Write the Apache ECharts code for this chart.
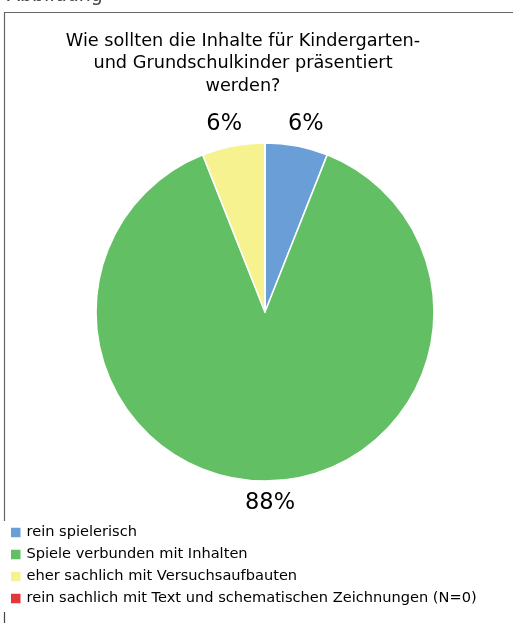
<!DOCTYPE html>
<html>
<head>
<meta charset="utf-8">
<script src="https://cdn.jsdelivr.net/npm/echarts@6/dist/echarts.min.js"></script>
<style>
html,body{margin:0;padding:0;background:#fff;}
#c{width:513px;height:623px;}
</style>
</head>
<body>
<div id="c"></div>
<script>
const titleText = 'Wie sollten die Inhalte für Kindergarten-\nund Grundschulkinder präsentiert\nwerden?';
const categories = ['rein spielerisch', 'Spiele verbunden mit Inhalten', 'eher sachlich mit Versuchsaufbauten', 'rein sachlich mit Text und schematischen Zeichnungen (N=0)'];
const values = [6, 88, 6, 0];
const colors = ['#6A9ED6', '#63BF63', '#F7F290', '#E4373C'];

const chart = echarts.init(document.getElementById('c'), null, {renderer: 'canvas'});
const font = '"DejaVu Sans"';
chart.setOption({
  animation: false,
  backgroundColor: '#fff',
  color: colors,
  title: {
    text: titleText,
    left: 243,
    top: 30,
    padding: 0,
    textAlign: 'center',
    textStyle: {fontFamily: font, fontSize: 17.7, fontWeight: 'normal', color: '#000', lineHeight: 22.5, align: 'center'}
  },
  legend: {
    orient: 'vertical',
    left: 9,
    top: 525,
    padding: 0,
    icon: 'rect',
    itemWidth: 11.5,
    itemHeight: 11.5,
    itemGap: 7,
    textStyle: {fontFamily: font, fontSize: 14.6, lineHeight: 14.5, color: '#000', padding: 0},
    data: categories
  },
  graphic: [
    {type: 'polyline', shape: {points: [[4.5, 521], [4.5, 12.5], [513, 12.5]]}, style: {stroke: '#666', lineWidth: 1.2, fill: null}},
    {type: 'line', shape: {x1: 4.5, y1: 612, x2: 4.5, y2: 623}, style: {stroke: '#444', lineWidth: 1.2}},
    {type: 'text', left: 7, top: -13.5, style: {text: 'Abbildung', font: '19px "DejaVu Sans"', fill: '#444'}}
  ],
  series: [{
    type: 'pie',
    center: [265, 312],
    radius: 169,
    startAngle: 90,
    clockwise: true,
    minAngle: 0,
    avoidLabelOverlap: false,
    itemStyle: {borderColor: '#fff', borderWidth: 1.5},
    label: {
      show: true,
      position: 'outside',
      formatter: function (p) { return p.value > 0 ? p.value + '%' : ''; },
      fontFamily: font,
      fontSize: 22.5,
      color: '#000'
    },
    labelLine: {show: false, length: 22, length2: 0},
    labelLayout: {align: 'center', verticalAlign: 'middle'},
    emphasis: {disabled: true},
    data: categories.map((n, i) => ({name: n, value: values[i]}))
  }]
});
</script>
</body>
</html>
